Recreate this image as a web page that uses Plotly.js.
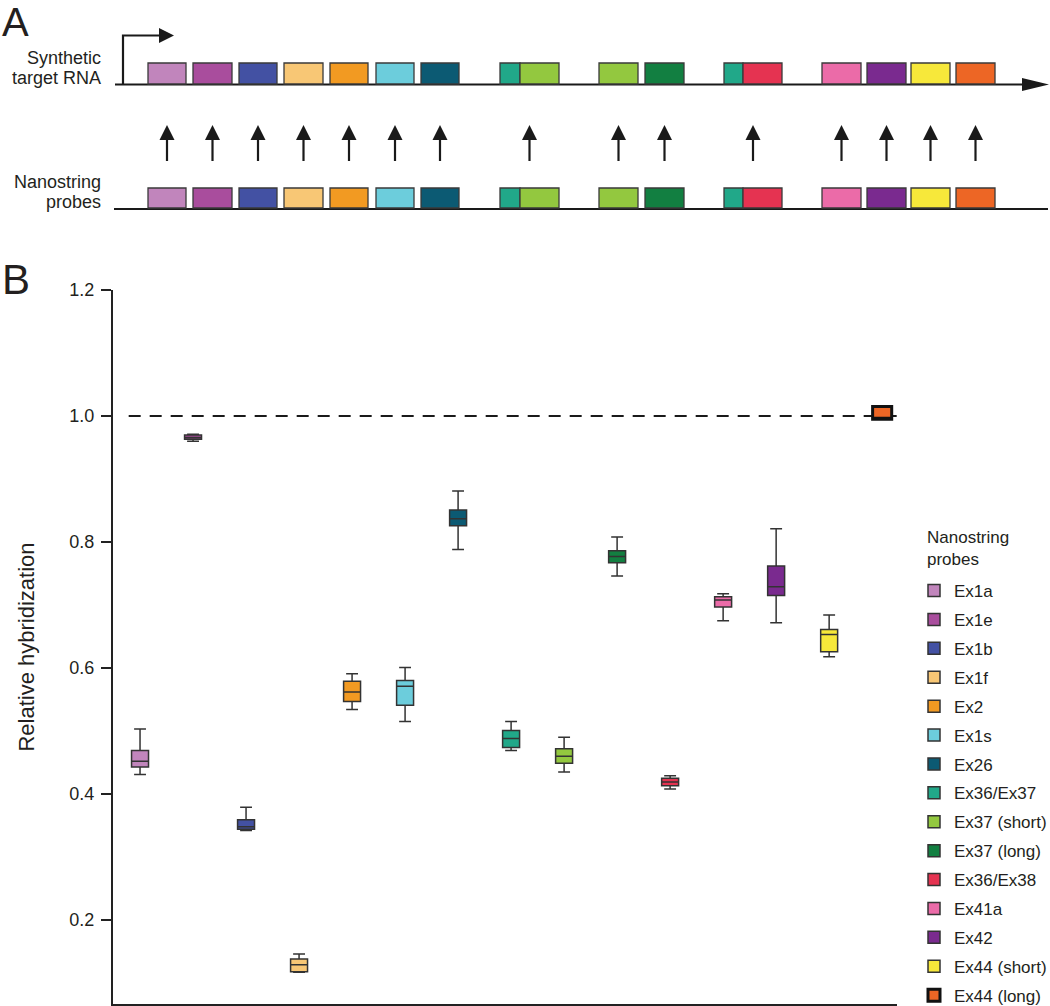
<!DOCTYPE html>
<html>
<head>
<meta charset="utf-8">
<script src="https://cdn.plot.ly/plotly-3.0.1.min.js"></script>
<style>
  html, body { margin: 0; padding: 0; background: #fff; }
  #chart { width: 1050px; height: 1006px; }
</style>
</head>
<body>
<div id="chart"></div>
<script>
// ---- panel B data (relative hybridization) ----
const probeNames = ['Ex1a', 'Ex1e', 'Ex1b', 'Ex1f', 'Ex2', 'Ex1s', 'Ex26', 'Ex36/Ex37',
    'Ex37 (short)', 'Ex37 (long)', 'Ex36/Ex38', 'Ex41a', 'Ex42', 'Ex44 (short)', 'Ex44 (long)'];
const probeColors = ['#C185BC', '#A94D9D', '#4351A3', '#F8C775', '#F29A22', '#6CCDDC', '#0C5A73', '#21A889',
    '#93C83F', '#127F41', '#E53351', '#EB6BA8', '#7A2A8F', '#F7E83A', '#ED6625'];
const upperFence = [0.503, 0.971, 0.379, 0.146, 0.591, 0.601, 0.881, 0.515, 0.490, 0.808, 0.429, 0.718, 0.821, 0.684, 1.015];
const q3         = [0.469, 0.970, 0.359, 0.138, 0.579, 0.580, 0.851, 0.501, 0.472, 0.786, 0.425, 0.713, 0.762, 0.661, 1.015];
const median     = [0.452, 0.966, 0.348, 0.129, 0.562, 0.571, 0.837, 0.488, 0.460, 0.777, 0.419, 0.708, 0.729, 0.653, 0.995];
const q1         = [0.443, 0.963, 0.344, 0.118, 0.547, 0.541, 0.826, 0.474, 0.449, 0.767, 0.413, 0.697, 0.715, 0.626, 0.995];
const lowerFence = [0.431, 0.960, 0.342, 0.117, 0.534, 0.515, 0.788, 0.469, 0.435, 0.746, 0.408, 0.675, 0.672, 0.618, 0.995];
const referenceLevel = 1.0;
const yTicks = [0.2, 0.4, 0.6, 0.8, 1.0, 1.2];

// ---- panel A schematic: exon blocks along the transcript (diagram units) ----
const blockStart = [148, 193, 239, 284, 330, 376, 421, 500, 520, 599, 645, 724, 743, 822, 867, 911, 956];
const blockEnd   = [186, 232, 277, 323, 368, 414, 459, 520, 559, 638, 684, 743, 782, 861, 906, 950, 995];
const blockColorProbe = [0, 1, 2, 3, 4, 5, 6, 7, 8, 8, 9, 7, 10, 11, 12, 13, 14];  // which colour each block has
const blockProbe      = [0, 1, 2, 3, 4, 5, 6, 7, 7, 8, 9, 10, 10, 11, 12, 13, 14]; // which probe a block belongs to

const FONT = 'Liberation Sans, Arial, Helvetica, sans-serif';
const INK = '#231F20';

// geometry of the schematic (y2 runs top->down, 1 unit = 1 px)
const geo = {
    rnaTop: 63, rnaBottom: 84, rnaLine: 84.5,
    probeTop: 188, probeBottom: 208, probeLine: 209,
    arrowTail: 161, arrowTip: 125,
    lineStart: 115, lineEnd: 1049
};

function buildBoxTraces()
{
    return probeNames.map((name, i) => {
        const last = i === probeNames.length - 1;
        return {
            type: 'box',
            name: name,
            legendgroup: name,
            x: [name],
            q1: [q1[i]], median: [median[i]], q3: [q3[i]],
            lowerfence: [lowerFence[i]], upperfence: [upperFence[i]],
            width: last ? 0.36 : 0.32,
            whiskerwidth: 0.7,
            boxpoints: false,
            fillcolor: probeColors[i],
            line: { color: last ? '#111' : '#333', width: last ? 3 : 1.5 },
            hoverinfo: 'skip'
        };
    });
}

function buildSchematicShapes()
{
    const shapes = [];
    const ref = { xref: 'x2', yref: 'y2' };
    const dark = '#1a1a1a';

    // RNA and probe backbones
    shapes.push({ ...ref, type: 'line', x0: geo.lineStart, x1: geo.lineEnd - 24, y0: geo.rnaLine, y1: geo.rnaLine,
        line: { color: dark, width: 2.2 } });
    shapes.push({ ...ref, type: 'path', path: `M${geo.lineEnd - 27},${geo.rnaLine - 6.5} L${geo.lineEnd},${geo.rnaLine} L${geo.lineEnd - 27},${geo.rnaLine + 6.5} Z`,
        fillcolor: dark, line: { width: 0 } });
    shapes.push({ ...ref, type: 'line', x0: geo.lineStart - 1, x1: geo.lineEnd - 1, y0: geo.probeLine, y1: geo.probeLine,
        line: { color: dark, width: 2.2 } });

    // transcription start
    shapes.push({ ...ref, type: 'path', path: `M123,${geo.rnaLine} V35.5 H161`,
        fillcolor: 'rgba(0,0,0,0)', line: { color: dark, width: 2.2 } });
    shapes.push({ ...ref, type: 'path', path: 'M159,28 L174,35.5 L159,43 Z', fillcolor: dark, line: { width: 0 } });

    // exon blocks, target row and probe row
    blockStart.forEach((x0, k) => {
        const style = { fillcolor: probeColors[blockColorProbe[k]], line: { color: '#3a3a3a', width: 1.3 } };
        shapes.push({ ...ref, type: 'rect', x0: x0, x1: blockEnd[k], y0: geo.rnaTop, y1: geo.rnaBottom, ...style });
        shapes.push({ ...ref, type: 'rect', x0: x0, x1: blockEnd[k], y0: geo.probeTop, y1: geo.probeBottom, ...style });
    });

    // hybridization arrows, one per probe at the centre of its blocks
    probeNames.forEach((_, p) => {
        const idx = blockProbe.map((b, k) => b === p ? k : -1).filter(k => k >= 0);
        const cx = (Math.min(...idx.map(k => blockStart[k])) + Math.max(...idx.map(k => blockEnd[k]))) / 2;
        shapes.push({ ...ref, type: 'line', x0: cx, x1: cx, y0: geo.arrowTail, y1: geo.arrowTip + 12,
            line: { color: dark, width: 2.2 } });
        shapes.push({ ...ref, type: 'path',
            path: `M${cx - 7.5},${geo.arrowTip + 15} L${cx},${geo.arrowTip} L${cx + 7.5},${geo.arrowTip + 15} Z`,
            fillcolor: dark, line: { width: 0 } });
    });
    return shapes;
}

function buildAnnotations()
{
    const txt = (text, x, y, size, extra) => Object.assign({
        text: text, x: x, y: y, xref: 'x2', yref: 'y2', showarrow: false,
        xanchor: 'right', yanchor: 'middle', font: { family: FONT, size: size, color: INK }
    }, extra || {});
    return [
        txt('A', 0, 22, 40, { xanchor: 'left' }),
        txt('Synthetic', 103, 58, 18),
        txt('target RNA', 103, 77.5, 18),
        txt('Nanostring', 103, 181.5, 18),
        txt('probes', 103, 201.5, 18),
        { text: 'B', xref: 'paper', yref: 'paper', x: 0, y: 1 - 279 / 1006, xanchor: 'left', yanchor: 'middle',
          showarrow: false, font: { family: FONT, size: 42, color: INK } },
        // legend heading, set over the legend's own column of swatches
        { text: 'Nanostring<br>probes', xref: 'paper', yref: 'paper', x: 925 / 1050, y: 1 - 548 / 1006,
          xanchor: 'left', yanchor: 'middle', align: 'left', showarrow: false,
          font: { family: FONT, size: 17, color: INK } }
    ];
}

document.addEventListener('DOMContentLoaded', function() {
    const shapes = buildSchematicShapes();
    // dashed reference line at 1.0
    shapes.push({ type: 'line', xref: 'x domain', yref: 'y', x0: 0.02, x1: 1.005, y0: referenceLevel, y1: referenceLevel,
        layer: 'below', line: { color: '#1a1a1a', width: 2, dash: '12px,9px' } });

    const layout = {
        width: 1050, height: 1006,
        margin: { l: 0, r: 0, t: 0, b: 0, autoexpand: false },
        paper_bgcolor: '#fff', plot_bgcolor: '#fff',
        font: { family: FONT, color: INK },
        showlegend: true,
        boxmode: 'overlay',
        xaxis: {
            domain: [113 / 1050, 897 / 1050],
            type: 'category',
            range: [-0.51, 14.28],
            showline: true, linecolor: '#222', linewidth: 2,
            showticklabels: false, ticks: '', showgrid: false, zeroline: false, fixedrange: true
        },
        yaxis: {
            domain: [2 / 1006, 716 / 1006],
            range: [0.0667, 1.2],
            tickvals: yTicks, tickformat: '.1f',
            ticks: 'outside', ticklen: 10, tickwidth: 2, tickcolor: '#222',
            showline: true, linecolor: '#222', linewidth: 2,
            showgrid: false, zeroline: false, fixedrange: true,
            tickfont: { family: FONT, size: 18, color: INK },
            ticklabelstandoff: 3,
            title: { text: 'Relative hybridization', font: { family: FONT, size: 22, color: INK }, standoff: 29 }
        },
        xaxis2: { domain: [0, 1], anchor: 'y2', range: [0, 1050], visible: false, fixedrange: true },
        yaxis2: { domain: [1 - 221 / 1006, 1], anchor: 'x2', range: [221, 0], visible: false, fixedrange: true },
        legend: {
            x: 914 / 1050, y: 1 - 573 / 1006, xanchor: 'left', yanchor: 'top',
            bgcolor: 'rgba(0,0,0,0)',
            font: { family: FONT, size: 17, color: INK },
            tracegroupgap: 3.8,
            itemclick: false, itemdoubleclick: false
        },
        shapes: shapes,
        annotations: buildAnnotations()
    };

    Plotly.newPlot('chart', buildBoxTraces(), layout, { displayModeBar: false, staticPlot: true });
});
</script>
</body>
</html>
